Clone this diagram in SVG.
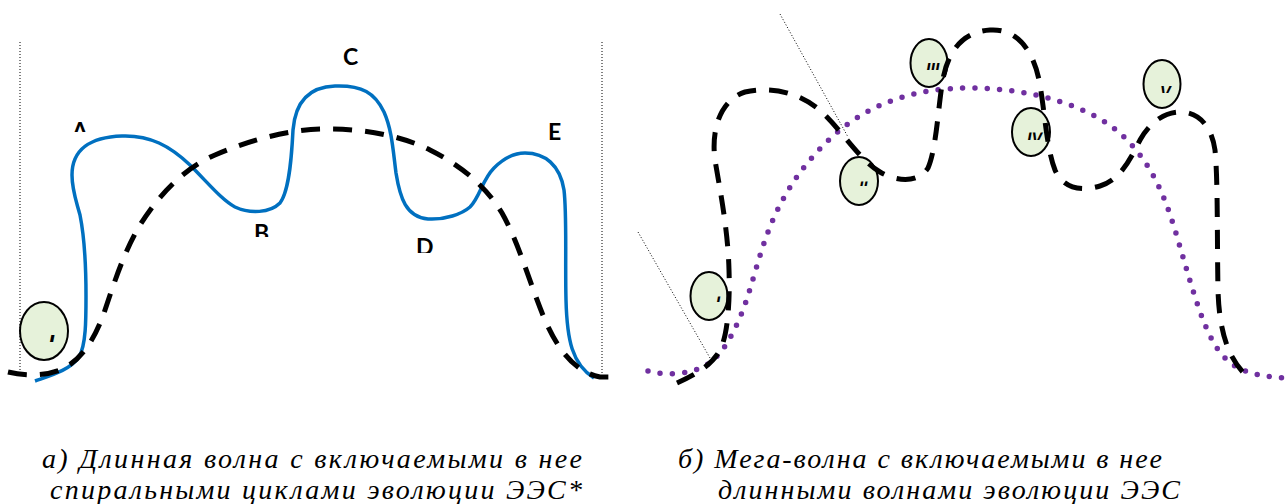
<svg xmlns="http://www.w3.org/2000/svg" width="1288" height="504" viewBox="0 0 1288 504">
<style>
.guide{fill:none;stroke:#000;stroke-width:1;stroke-dasharray:1 2}
.blue{fill:none;stroke:#0070C0;stroke-width:3.5;stroke-linecap:butt}
.dash{fill:none;stroke:#000;stroke-width:5;stroke-dasharray:19 13}
.dots{fill:none;stroke:#7030A0;stroke-width:5.5;stroke-linecap:round;stroke-dasharray:0 12.3}
.node{fill:#E6F2DA;stroke:#000;stroke-width:2}
.lbl{font-family:"Lato","Liberation Sans",sans-serif;font-weight:700;font-size:23px;fill:#000}
.num{font-family:"Liberation Sans",sans-serif;font-weight:700;font-style:italic;fill:#000}
.cap{font-family:"Liberation Serif","Times New Roman",serif;font-style:italic;font-size:28px;fill:#000}
</style>
<defs>
<clipPath id="cA"><rect x="60" y="110" width="40" height="22"/></clipPath>
<clipPath id="cB"><rect x="240" y="215" width="40" height="22"/></clipPath>
<clipPath id="cD"><rect x="405" y="228" width="40" height="25"/></clipPath>
<clipPath id="c0"><rect x="38" y="331" width="24" height="11"/></clipPath>
<clipPath id="c1"><rect x="710" y="296.5" width="16" height="5.5"/></clipPath>
<clipPath id="c2"><rect x="852" y="181.5" width="26" height="4.5"/></clipPath>
<clipPath id="c3"><rect x="920" y="63" width="30" height="7"/></clipPath>
<clipPath id="c4"><rect x="1022" y="132.5" width="30" height="7.5"/></clipPath>
<clipPath id="c5"><rect x="1155" y="86" width="24" height="7"/></clipPath>
</defs>

<g id="guides">
<line class="guide" x1="20" y1="42" x2="20" y2="377"/>
<line class="guide" x1="602" y1="42" x2="602" y2="377"/>
<line class="guide" x1="638" y1="232" x2="710" y2="358"/>
<line class="guide" x1="780" y1="14" x2="848" y2="137"/>
</g>

<g id="node-left-I">
<ellipse class="node" cx="44" cy="331" rx="24" ry="29"/>
<text class="num" font-size="22" x="48" y="350" clip-path="url(#c0)">I</text>
</g>
<g id="node-I">
<ellipse class="node" cx="709" cy="296" rx="18.5" ry="24"/>
<text class="num" font-size="16" x="716" y="306" clip-path="url(#c1)">I</text>
</g>
<g id="node-II">
<ellipse class="node" cx="859" cy="181" rx="19" ry="24"/>
<text class="num" font-size="15" x="859" y="191" clip-path="url(#c2)">II</text>
</g>
<g id="node-III">
<ellipse class="node" cx="929" cy="63" rx="18.5" ry="24"/>
<text class="num" font-size="16" x="926" y="74" clip-path="url(#c3)">III</text>
</g>
<g id="node-IV">
<ellipse class="node" cx="1031" cy="132" rx="19" ry="24"/>
<text class="num" font-size="16" x="1027" y="144" clip-path="url(#c4)">IV</text>
</g>
<g id="node-V">
<ellipse class="node" cx="1162" cy="84" rx="18.5" ry="24"/>
<text class="num" font-size="16" x="1160" y="98" clip-path="url(#c5)">V</text>
</g>

<g id="labels">
<text class="lbl" x="72" y="139" clip-path="url(#cA)">A</text>
<text class="lbl" x="254" y="241" clip-path="url(#cB)">B</text>
<text class="lbl" x="343" y="65">C</text>
<text class="lbl" x="416" y="255" clip-path="url(#cD)">D</text>
<text class="lbl" x="548" y="140">E</text>
</g>

<g id="connectors">
<path class="blue" d="M35,381 C52,375 70,370 79,357 C86,345 86,320 86,296 C86,260 83,230 80,215 C76,200 72,190 72,175 C72,150 90,137 122,136 C150,135 170,146 190,165 C210,185 222,200 235,207 C250,214 270,213 280,203 C290,190 292,150 293,130 C295,105 306,87 335,86 C362,85 375,93 384,112 C392,130 393,150 396,173 C400,198 406,217 428,219 C445,220 462,214 470,207 C480,197 482,180 494,168 C505,157 515,153 525,153 C545,153 560,165 564,190 C567,215 565,260 566,300 C567,340 572,364 594,378"/>
<path class="dash" d="M8,372 C25,376 45,376 60,370 C80,362 95,340 105,310 C115,280 125,250 140,225 C160,193 185,168 215,155 C245,142 285,130 320,129 C360,128 400,135 430,150 C460,165 485,185 502,213 C520,245 530,285 545,320 C558,350 575,372 600,377 L618,377"/>
<path class="dots" d="M648,371 C665,376 690,374 705,366 C722,356 733,335 743,310 C753,283 760,250 772,222 C790,180 815,150 845,126 C880,100 920,88 970,88 C1020,88 1070,100 1105,122 C1140,145 1160,180 1175,230 C1190,280 1200,320 1215,345 C1228,366 1245,377 1290,378"/>
<path class="dash" d="M677,383 C695,375 712,365 720,350 C728,335 730,300 729,270 C728,230 720,190 715,160 C711,130 720,100 745,92 C775,85 805,95 825,115 C845,135 860,160 880,172 C895,181 918,184 928,168 C936,150 938,110 942,85 C946,55 960,32 990,30 C1020,28 1035,55 1040,85 C1045,115 1047,150 1055,170 C1063,188 1080,192 1100,186 C1120,180 1130,160 1140,140 C1150,122 1165,112 1180,112 C1200,112 1212,128 1215,150 C1218,180 1217,240 1218,290 C1219,330 1228,360 1248,377"/>
</g>

<g id="captions">
<text class="cap" x="42" y="468" textLength="540" lengthAdjust="spacing">а) Длинная волна с включаемыми в нее</text>
<text class="cap" x="50" y="499" textLength="532" lengthAdjust="spacing">спиральными циклами эволюции ЭЭС*</text>
<text class="cap" x="678" y="468" textLength="484" lengthAdjust="spacing">б) Мега-волна с включаемыми в нее</text>
<text class="cap" x="718" y="499" textLength="462" lengthAdjust="spacing">длинными волнами эволюции ЭЭС</text>
</g>
</svg>
